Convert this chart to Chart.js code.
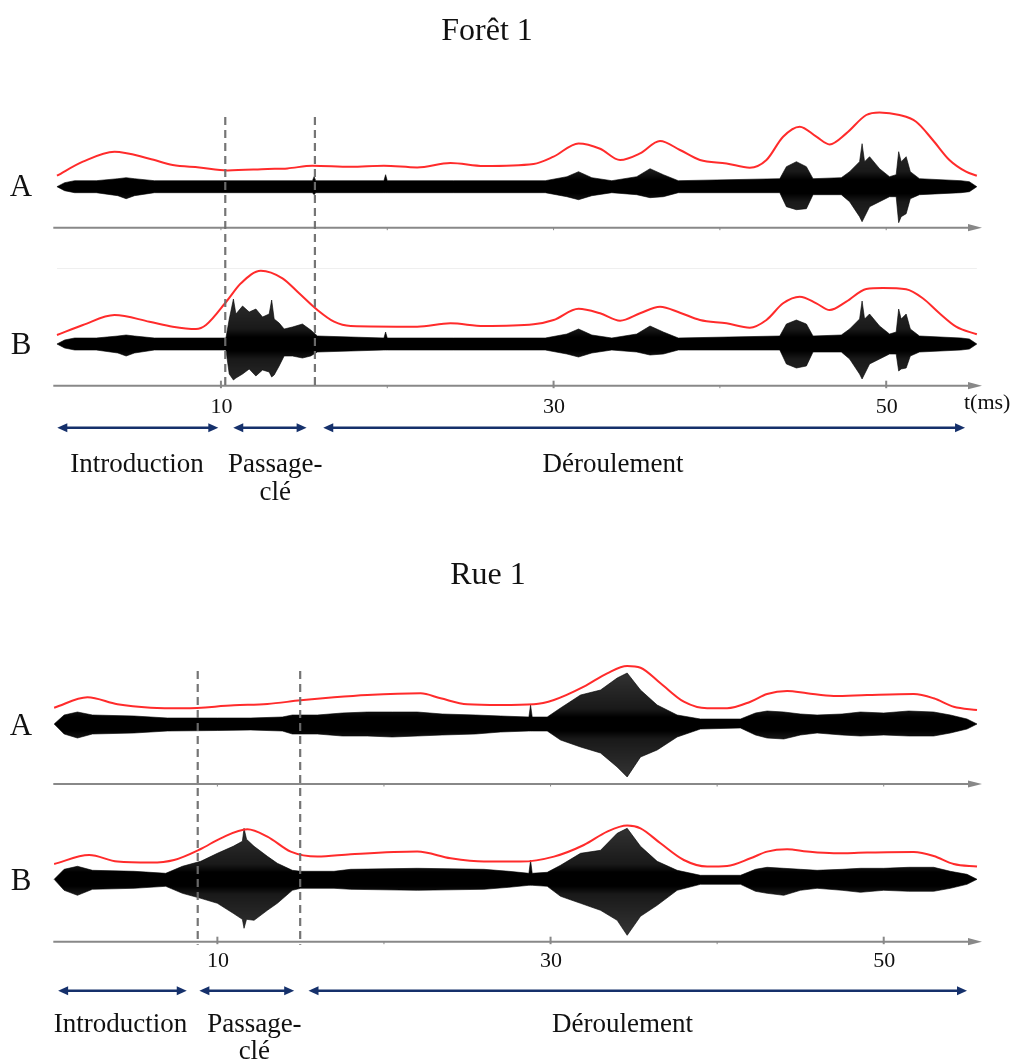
<!DOCTYPE html>
<html><head><meta charset="utf-8">
<script src="https://cdn.jsdelivr.net/npm/chart.js@4.4.1/dist/chart.umd.min.js"></script>
<style>
html,body{margin:0;padding:0;background:#fff;}
body{width:1014px;height:1061px;position:relative;overflow:hidden;}
canvas{position:absolute;left:0;}
</style></head>
<body>
<canvas id="foret" width="1014" height="530" style="top:0"></canvas>
<canvas id="rue" width="1014" height="531" style="top:530px"></canvas>
<script>
// ---------- texts / ticks ----------
const titles = ['Forêt 1', 'Rue 1'];
const trackNames = ['A', 'B'];
const majorTicks = [10, 30, 50];
const minorTicks = [20, 40];
const allTicks = [10, 20, 30, 40, 50];
const axisUnit = 't(ms)';
const sectionNames = [['Introduction'], ['Passage-', 'clé'], ['Déroulement']];

// ---------- Forêt 1 : waveform A (time ms, upper amp, lower amp) ----------
const foretA_t  = [0.14,0.6,1.2,2.5,3.8,4.3,4.8,6,10,15.5,15.6,15.7,19.8,19.9,20,24,29.5,30.8,31.5,32.3,33.5,35,35.8,36.6,37.5,43.6,44,44.6,45.2,45.6,47.3,47.8,48.4,48.55,48.7,49,49.6,50.2,50.6,50.75,50.9,51.2,51.45,52,54.5,55,55.45];
const foretA_hi = [0,4,6,6,8,9,8,6,6,6,10,6,6,12,6,6,6,10,15,9,6,10,18,12,6,8,20,25,20,8,9,15,25,43,25,30,18,10,12,35,25,30,15,8,6,5,0];
const foretA_lo = [0,4,6,6,9,12,9,6,6,6,8,6,6,6,6,6,6,10,13,9,6,8,11,10,6,6,20,23,22,8,8,15,30,35,30,20,15,10,10,36,30,27,12,8,6,5,0];
// Forêt 1 : waveform B
const foretB_t  = [0.14,0.6,1.2,2.5,3.8,4.3,4.8,6,10.3,10.5,10.75,10.9,11.3,11.7,12.1,12.5,12.9,13.05,13.2,13.5,13.8,14.3,14.9,15.4,15.8,19.8,19.9,20,24,29.5,30.8,31.5,32.3,33.5,35,35.8,36.6,37.5,43.6,44,44.6,45.2,45.6,47.3,47.8,48.4,48.55,48.7,49,49.6,50.2,50.6,50.75,50.9,51.2,51.45,52,54.5,55,55.45];
const foretB_hi = [0,4,6,6,8,9,8,6,6,25,45,30,38,32,35,27,30,44,25,21,15,17,20,14,8,6,12,6,6,6,10,15,9,6,10,18,12,6,8,20,24,20,8,9,15,25,43,25,30,18,10,12,35,25,30,15,8,6,5,0];
const foretB_lo = [0,4,6,6,9,12,9,6,6,30,36,34,30,25,32,26,28,33,31,22,12,12,14,12,8,6,6,6,6,6,10,13,9,6,8,11,10,6,6,20,24,22,8,8,15,30,35,30,20,15,10,10,27,25,24,12,8,6,5,0];
// Forêt 1 : red envelopes
const foretEnvA_t = [0.14,1.7,3.6,5.7,7.1,8.7,10.4,12.8,14,15.5,17.8,19.8,21.8,23.8,25.8,28.8,30,31.5,32.8,34,35.2,36.4,37.6,38.8,40.4,41.8,42.8,43.8,44.8,45.8,46.6,47.6,48.8,49.6,50.8,51.8,52.8,53.8,54.8,55.45];
const foretEnvA   = [11,25,35,28,21.7,19.3,16.3,17.7,18.3,21,20,21,19.3,23.7,20.7,22.7,30,43.3,38,26.7,33.3,45.7,36.7,26.7,23.3,19,26.7,50,60,50,42.3,53.3,71.7,74.3,71.7,65,46.7,26.7,15,11];
const foretEnvB_t = [0.14,1.7,3.6,5.7,7.1,8.5,9.1,10.4,11.2,12.4,13.7,14.7,15.8,16.8,17.8,21.8,23.8,25.8,28.8,30,31.5,32.8,34,35.2,36.4,37.6,38.8,40.4,41.8,42.8,43.8,44.8,45.8,46.6,47.6,48.8,49.8,51.2,52.2,53.2,54.2,55.45];
const foretEnvB   = [9,19,29,22.3,17.3,15,19,44,60.7,73.3,65.7,50.7,34,22.3,18,17.3,20.7,18,19.7,24,35.3,30.7,23.3,30.7,37.3,31.3,24,20.7,16.3,24,40.7,47.3,40.7,34,42.3,55,56,54.7,45.7,30.7,17.3,9.7];
const foretDashes = [10.26, 15.65];
const foretSpans = [[0.16, 9.84], [10.74, 15.15], [16.15, 54.74]];

// ---------- Rue 1 : waveform A ----------
const rueA_t  = [0.2,0.8,1.6,2.5,5,7,10,12,13.9,14.5,16,17.5,19,20.5,22,23.5,25.5,27,28.7,28.8,28.9,29.8,30.6,31.8,33,34,34.6,35.4,36.4,37.6,39,41.4,42.3,43,44,45,46,47.5,48.6,50,51.5,53,54,55,55.6];
const rueA_hi = [0,9,12,9,8,6,6,6,7,9,9,11,12,12,12,10,9,8,7,19,7,7,16,29,34,46,51,34,19,9,5,5,11,13,12,10,9,10,12,11,13,12,9,5,0];
const rueA_lo = [0,10,14,10,9,7,6.5,6,7,10,10,12,12,13,12,11,10,8,7,7,7,7,16,23,29,43,53,33,26,13,5,4,11,14,15,11,9,11,12,11,12,12,9,5,0];
// Rue 1 : waveform B
const rueB_t  = [0.2,0.8,1.6,2.5,5,6.9,7.9,9,10,10.95,11.5,11.6,11.75,12.2,13,13.6,14.5,15,17,18,22,26,27.5,28.7,28.8,28.9,29.8,30.6,31.8,33,34,34.6,35.4,36.4,37.6,39,41.4,42.3,43,44,45,46,47.5,48.6,50,51.5,53,54,55,55.6];
const rueB_hi = [0,10,13,9,8,6,13,18,26,33,38,51,40,33,23,16,9,8,8,10,11,10,8,6,19,6,7,14,26,29,46,51,33,18,9,4,4,10,12,11,10,9,10,11,11,12,12,8,5,0];
const rueB_lo = [0,11,16,10,9,7,14,19,24,34,40,49,40,41,31,24,11,9,9,10,11,10,8,6,6,6,7,17,24,31,41,56,37,26,11,5,5,12,14,16,11,9,11,13,11,12,12,9,5,0];
// Rue 1 : red envelopes
const rueEnvA_t = [0.2,2.2,4,6,8,11,13,15,17,19,22.2,23.4,25,27,29,30.2,32,33.4,34.6,35.4,36.6,38,39.4,40.6,42,43,44.2,45.4,47,49,51.8,53,54.2,55.6];
const rueEnvA   = [16.3,26.7,19.7,16.3,15.7,18.7,20,23.7,26.7,29,30.7,25.7,19.7,19,19.7,24,37.3,50.7,58,56.3,40.7,22.3,15.7,15.7,22.3,30,33,30.7,28,29,30,25.7,17.3,14];
const rueEnvB_t = [0.2,2.3,4,6,7.4,9,10.2,11.8,13,14.4,16,18,22,24,26,28.2,30.2,32,33.4,34.6,35.4,36.6,38,39.4,40.6,42,43,44.2,45.4,47,49,51.8,53,54.2,55.6];
const rueEnvB   = [15.3,24.3,17.7,16.7,19.3,30.3,41,50,42.7,27.7,22.7,25,27.7,21,17.7,17.7,22.7,34.3,47.7,53.7,51,36,19.3,12.7,13.3,21,27.7,30,27.7,26,26.7,27.3,23.3,15.3,12.7];
const rueDashes = [8.82, 14.97];
const rueSpans = [[0.44, 8.16], [8.92, 14.61], [15.47, 55.0]];

// ---------- layout (positions & styles only) ----------
const SERIF = '"Liberation Serif", "DejaVu Serif", serif';
const panels = [
  { id:'foret', title:titles[0], showUnit:true,
    tracks:[
      {t:foretA_t, hi:foretA_hi, lo:foretA_lo, envT:foretEnvA_t, env:foretEnvA},
      {t:foretB_t, hi:foretB_hi, lo:foretB_lo, envT:foretEnvB_t, env:foretEnvB}],
    dashes:foretDashes, spans:foretSpans,
    L:{ pad:{left:53.3, right:32, top:110, bottom:144.3}, xMin:-0.08, xMax:55.76,
        yA:[-199, 76.7], yB:[-41.7, 234], axisA:-41,
        titleX:487, titleY:40, dashTop:7, dashBot:3,
        tickY:27.3, arrowY:42, lab1:86, lab2:114.3,
        labelX:[4.95, 13.27, 33.57], faint:{y:76.3, x0:0.14, x1:55.45}, nameDy:9.5 } },
  { id:'rue', title:titles[1], showUnit:false,
    tracks:[
      {t:rueA_t, hi:rueA_hi, lo:rueA_lo, envT:rueEnvA_t, env:rueEnvA},
      {t:rueB_t, hi:rueB_hi, lo:rueB_lo, envT:rueEnvB_t, env:rueEnvB}],
    dashes:rueDashes, spans:rueSpans,
    L:{ pad:{left:53.3, right:32, top:130, bottom:119.3}, xMin:0.15, xMax:55.9,
        yA:[-217.7, 64], yB:[-62.4, 219.3], axisA:-60,
        titleX:488, titleY:54, dashTop:11, dashBot:3,
        tickY:25.6, arrowY:49, lab1:90, lab2:117.6,
        labelX:[4.19, 12.22, 34.32], faint:null, nameDy:10.5 } }
];

// band fill: dense near the trace centre, a little lighter towards the spikes (style only)
function bandFill(chart, axisId) {
  const ca = chart.chartArea;
  if (!ca) return 'rgba(0,0,0,0.9)';
  const y0 = chart.scales[axisId].getPixelForValue(0);
  const R = 60;
  const g = chart.ctx.createLinearGradient(0, y0 - R, 0, y0 + R);
  const stops = [[-60,0.78],[-15,0.9],[-7,1],[7,1],[15,0.9],[60,0.78]];
  stops.forEach(([d, a]) => g.addColorStop((d + R) / (2 * R), 'rgba(0,0,0,' + a + ')'));
  return g;
}

function head(ctx, x, y, dir, len, half) {
  ctx.beginPath();
  ctx.moveTo(x, y);
  ctx.lineTo(x - dir * len, y - half);
  ctx.lineTo(x - dir * len, y + half);
  ctx.closePath();
  ctx.fill();
}

function makeDeco(P) {
  const L = P.L;
  return {
    id: 'deco_' + P.id,
    beforeDatasetsDraw(chart) {
      const ctx = chart.ctx, ca = chart.chartArea, xs = chart.scales.x;
      const yA = chart.scales.yA, yB = chart.scales.yB;
      ctx.save();
      if (L.faint) {
        ctx.strokeStyle = '#efefef'; ctx.lineWidth = 1;
        const fy = Math.round(yB.getPixelForValue(L.faint.y)) + 0.5;
        ctx.beginPath(); ctx.moveTo(xs.getPixelForValue(L.faint.x0), fy);
        ctx.lineTo(xs.getPixelForValue(L.faint.x1), fy); ctx.stroke();
      }
      const axisYs = [yA.getPixelForValue(L.axisA), ca.bottom];
      ctx.strokeStyle = '#888'; ctx.fillStyle = '#888';
      axisYs.forEach((ay, i) => {
        ctx.lineWidth = 2;
        ctx.beginPath(); ctx.moveTo(ca.left, ay); ctx.lineTo(ca.right - 10, ay); ctx.stroke();
        head(ctx, ca.right, ay, 1, 14, 3.6);
        if (i === 0) {
          ctx.lineWidth = 1;
          allTicks.forEach(v => { const px = xs.getPixelForValue(v);
            ctx.beginPath(); ctx.moveTo(px, ay); ctx.lineTo(px, ay + 2.5); ctx.stroke(); });
        } else {
          ctx.lineWidth = 2;
          majorTicks.forEach(v => { const px = xs.getPixelForValue(v);
            ctx.beginPath(); ctx.moveTo(px, ay - 5); ctx.lineTo(px, ay + 2.5); ctx.stroke(); });
          ctx.lineWidth = 1;
          minorTicks.forEach(v => { const px = xs.getPixelForValue(v);
            ctx.beginPath(); ctx.moveTo(px, ay); ctx.lineTo(px, ay + 2.5); ctx.stroke(); });
        }
      });
      ctx.restore();
    },
    afterDatasetsDraw(chart) {
      const ctx = chart.ctx, ca = chart.chartArea, xs = chart.scales.x;
      ctx.save();
      ctx.strokeStyle = 'rgba(110,110,110,0.95)'; ctx.lineWidth = 2.2;
      ctx.setLineDash([8, 5]);
      P.dashes.forEach(v => {
        const px = xs.getPixelForValue(v);
        ctx.beginPath(); ctx.moveTo(px, ca.top + L.dashTop); ctx.lineTo(px, ca.bottom + L.dashBot); ctx.stroke();
      });
      ctx.restore();
    },
    afterDraw(chart) {
      const ctx = chart.ctx, ca = chart.chartArea, xs = chart.scales.x;
      const yA = chart.scales.yA, yB = chart.scales.yB;
      ctx.save();
      ctx.fillStyle = '#111';
      ctx.textAlign = 'center'; ctx.textBaseline = 'alphabetic';
      ctx.font = '32px ' + SERIF;
      ctx.fillText(P.title, L.titleX, L.titleY);
      ctx.font = '31px ' + SERIF;
      ctx.fillText(trackNames[0], 21, yA.getPixelForValue(0) + L.nameDy);
      ctx.fillText(trackNames[1], 21, yB.getPixelForValue(0) + L.nameDy);
      ctx.font = '22px ' + SERIF;
      majorTicks.forEach(v => ctx.fillText(String(v), xs.getPixelForValue(v) + 0.5, ca.bottom + L.tickY));
      if (P.showUnit) { ctx.textAlign = 'left'; ctx.fillText(axisUnit, 964, ca.bottom + L.tickY - 4); ctx.textAlign = 'center'; }
      const ay = ca.bottom + L.arrowY;
      ctx.strokeStyle = '#15306b'; ctx.fillStyle = '#15306b'; ctx.lineWidth = 2.4;
      P.spans.forEach(s => {
        const x0 = xs.getPixelForValue(s[0]), x1 = xs.getPixelForValue(s[1]);
        ctx.beginPath(); ctx.moveTo(x0 + 6, ay); ctx.lineTo(x1 - 6, ay); ctx.stroke();
        head(ctx, x0, ay, -1, 10, 4.5);
        head(ctx, x1, ay, 1, 10, 4.5);
      });
      ctx.fillStyle = '#111';
      ctx.font = '27px ' + SERIF;
      sectionNames.forEach((lines, i) => {
        const px = xs.getPixelForValue(L.labelX[i]);
        lines.forEach((txt, j) => ctx.fillText(txt, px, ca.bottom + (j === 0 ? L.lab1 : L.lab2)));
      });
      ctx.restore();
    }
  };
}

panels.forEach(P => {
  const L = P.L;
  const datasets = [];
  P.tracks.forEach((tr, i) => {
    const axis = i === 0 ? 'yA' : 'yB';
    datasets.push({ data: tr.envT.map((t, k) => ({x: t, y: tr.env[k]})), yAxisID: axis,
      borderColor: '#ff2b2b', borderWidth: 2, pointRadius: 0, fill: false,
      cubicInterpolationMode: 'monotone', order: 0, clip: false });
  });
  P.tracks.forEach((tr, i) => {
    const axis = i === 0 ? 'yA' : 'yB';
    datasets.push({ data: tr.t.map((t, k) => ({x: t, y: tr.hi[k]})), yAxisID: axis,
      borderColor: 'rgba(0,0,0,0.6)', backgroundColor: c => bandFill(c.chart, axis), borderWidth: 1, pointRadius: 0,
      fill: '+1', tension: 0, order: 1, clip: false });
    datasets.push({ data: tr.t.map((t, k) => ({x: t, y: -tr.lo[k]})), yAxisID: axis,
      borderColor: 'rgba(0,0,0,0.6)', borderWidth: 1, pointRadius: 0, fill: false, tension: 0, order: 1, clip: false });
  });
  new Chart(document.getElementById(P.id), {
    type: 'line',
    data: { datasets },
    options: {
      responsive: false, animation: false, events: [],
      layout: { padding: L.pad },
      plugins: { legend: { display: false }, tooltip: { enabled: false }, title: { display: false } },
      scales: {
        x: { type: 'linear', min: L.xMin, max: L.xMax, display: false },
        yA: { type: 'linear', min: L.yA[0], max: L.yA[1], display: false },
        yB: { type: 'linear', min: L.yB[0], max: L.yB[1], display: false }
      }
    },
    plugins: [makeDeco(P)]
  });
});
</script>
</body></html>
